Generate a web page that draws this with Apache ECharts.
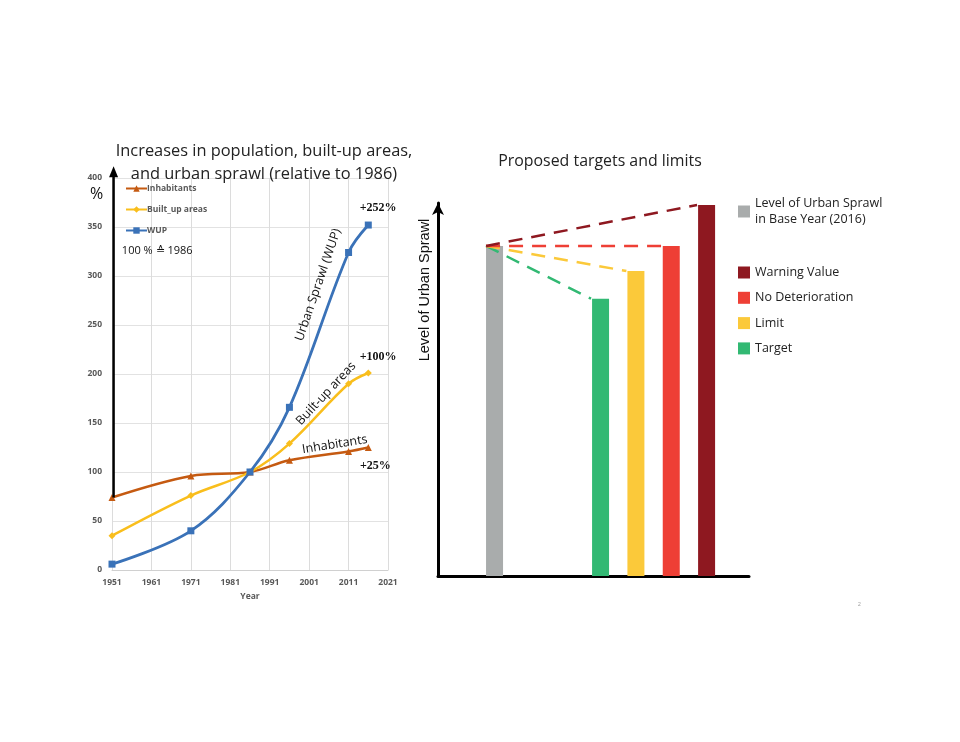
<!DOCTYPE html>
<html>
<head>
<meta charset="utf-8">
<script src="https://cdn.jsdelivr.net/npm/echarts@6/dist/echarts.min.js"></script>
<style>
  html, body { margin: 0; padding: 0; background: #fff; }
  #main { width: 960px; height: 742px; }
</style>
</head>
<body>
<div id="main"></div>
<script>
// left chart: growth relative to 1986 (=100 %)
var baseYear = 1951;
var years = [1951, 1971, 1986, 1996, 2011, 2016];
var inhabitants = [74, 96, 100, 112, 121, 125];
var builtUp = [35, 76, 100, 129, 190, 201];
var wup = [6, 40, 100, 166, 324, 352];
var yearTicks = [1951, 1961, 1971, 1981, 1991, 2001, 2011, 2021];

// right chart: proposed targets and limits
var levelNames = ['Level of Urban Sprawl\nin Base Year (2016)', 'Target', 'Limit', 'No Deterioration', 'Warning Value'];
var levelSlots = [0, 3, 4, 5, 6];
var levelValues = [100, 84, 92.4, 100, 112.4];
var levelColors = ['#A9ACAC', '#32B973', '#FBC93A', '#EE3F35', '#8E1820'];
var legendOrder = ['Warning Value', 'No Deterioration', 'Limit', 'Target'];

var myChart = echarts.init(document.getElementById('main'));

function pairs(vals) {
  return years.map(function (y, i) { return [y - baseYear, vals[i]]; });
}

var tickFont = { color: '#595959', fontSize: 8.5, fontWeight: 'bold', fontFamily: 'Open Sans' };
var noteFont = { color: '#111', fontSize: 12, fontWeight: 'bold', fontFamily: 'Liberation Serif' };
var lineFont = { color: '#111', fontSize: 12.5, fontFamily: 'Open Sans' };

function note(text, x, v, rotate, extra) {
  return {
    coord: [x, v], symbol: 'circle', symbolSize: 0,
    label: Object.assign({ show: true, position: 'inside', formatter: text, rotate: rotate || 0 }, extra)
  };
}

var series = [
  {
    name: 'Inhabitants', type: 'line', xAxisIndex: 0, yAxisIndex: 0,
    data: pairs(inhabitants), smooth: 0.35,
    symbol: 'triangle', symbolSize: 7,
    lineStyle: { width: 2.5, color: '#C55A11' }, itemStyle: { color: '#C55A11' },
    markPoint: {
      silent: true,
      data: [
        note('Inhabitants', 56.5, 128, 9, lineFont),
        note('+25%', 66.8, 106, 0, noteFont),
        note('100 % \u2259 1986', 2.5, 326, 0, { position: 'right', distance: 0, color: '#111', fontSize: 11, fontFamily: 'Open Sans' })
      ]
    }
  },
  {
    name: 'Built_up areas', type: 'line', xAxisIndex: 0, yAxisIndex: 0,
    data: pairs(builtUp), smooth: 0.35,
    symbol: 'diamond', symbolSize: 7,
    lineStyle: { width: 2.5, color: '#F9BE1C' }, itemStyle: { color: '#F9BE1C' },
    markPoint: {
      silent: true,
      data: [
        note('Built-up areas', 54.3, 180, 47, lineFont),
        note('+100%', 67.5, 217, 0, noteFont)
      ]
    }
  },
  {
    name: 'WUP', type: 'line', xAxisIndex: 0, yAxisIndex: 0,
    data: pairs(wup), smooth: 0.35,
    symbol: 'rect', symbolSize: 7,
    lineStyle: { width: 2.8, color: '#3A72B8' }, itemStyle: { color: '#3A72B8' },
    markPoint: {
      silent: true,
      data: [
        note('Urban Sprawl (WUP)', 52.3, 291, 71, lineFont),
        note('+252%', 67.5, 369, 0, noteFont)
      ]
    }
  }
];

// bars of the right chart, one series each for the legend
levelNames.forEach(function (name, i) {
  series.push({
    name: name, type: 'bar', xAxisIndex: 1, yAxisIndex: 1, stack: 'levels',
    barWidth: i === 0 ? 17 : 20,
    itemStyle: { color: levelColors[i] },
    data: [[levelSlots[i], levelValues[i]]]
  });
});

// dashed lines from the base-year level to each target bar (left top corners)
var edge = 0.27;
for (var k = 1; k < levelNames.length; k++) {
  series.push({
    type: 'line', xAxisIndex: 1, yAxisIndex: 1, z: 5, silent: true,
    symbol: 'none',
    lineStyle: { color: levelColors[k], width: 2.5, type: [14, 9] },
    data: [[levelSlots[0] - edge + 0.03, levelValues[0]], [levelSlots[k] - edge, levelValues[k]]]
  });
}

var option = {
  animation: false,
  backgroundColor: '#fff',
  title: [
    {
      text: 'Increases in population, built-up areas,\nand urban sprawl (relative to 1986)',
      left: 259, top: 135, textAlign: 'center',
      textStyle: { fontSize: 16.4, lineHeight: 23, fontWeight: 'normal', color: '#222', fontFamily: 'Open Sans' }
    },
    {
      text: 'Proposed targets and limits',
      left: 595, top: 148, textAlign: 'center',
      textStyle: { fontSize: 15.9, fontWeight: 'normal', color: '#222', fontFamily: 'Open Sans' }
    }
  ],
  legend: [
    {
      data: ['Inhabitants', 'Built_up areas', 'WUP'],
      orient: 'vertical', left: 120, top: 179, itemGap: 12,
      itemWidth: 21, itemHeight: 8, selectedMode: false,
      textStyle: { color: '#595959', fontSize: 8.5, fontWeight: 'bold', fontFamily: 'Open Sans', padding: [0, 0, 0, -5] }
    },
    {
      data: [levelNames[0]],
      orient: 'vertical', left: 733, top: 190, selectedMode: false,
      icon: 'rect', itemWidth: 12, itemHeight: 12,
      textStyle: { color: '#222', fontSize: 12.5, lineHeight: 16.5, fontFamily: 'Open Sans' }
    },
    {
      data: legendOrder,
      orient: 'vertical', left: 733, top: 261, itemGap: 12.3, selectedMode: false,
      icon: 'rect', itemWidth: 12, itemHeight: 12,
      textStyle: { color: '#222', fontSize: 12.5, fontFamily: 'Open Sans' }
    }
  ],
  grid: [
    { left: 112, top: 178, width: 276, height: 392 },
    { left: 438, top: 203, width: 311, height: 373 }
  ],
  xAxis: [
    {
      gridIndex: 0, type: 'value', min: 0, max: yearTicks[yearTicks.length - 1] - baseYear, interval: 10,
      name: 'Year', nameLocation: 'middle', nameGap: 20,
      nameTextStyle: tickFont,
      axisLine: { lineStyle: { color: '#d0d0d0', width: 1 } },
      axisTick: { show: false },
      axisLabel: Object.assign({ margin: 8, formatter: function (v) { return v + baseYear; } }, tickFont),
      splitLine: { show: true, lineStyle: { color: '#dcdcdc', width: 1 } }
    },
    {
      gridIndex: 1, type: 'value', min: -1.6, max: 7.2,
      axisLine: { onZero: false, lineStyle: { color: '#000', width: 3 } },
      axisTick: { show: false }, axisLabel: { show: false }, splitLine: { show: false }
    }
  ],
  yAxis: [
    {
      gridIndex: 0, type: 'value', min: 0, max: 400, interval: 50,
      axisLine: { show: false }, axisTick: { show: false },
      axisLabel: Object.assign({ margin: 10 }, tickFont),
      splitLine: { show: true, lineStyle: { color: '#e2e2e2', width: 1 } }
    },
    {
      gridIndex: 1, type: 'value', min: 0, max: 113,
      axisLine: { onZero: false, symbol: ['none', 'arrow'], symbolSize: [9, 12], lineStyle: { color: '#000', width: 3 } },
      axisTick: { show: false }, axisLabel: { show: false }, splitLine: { show: false }
    }
  ],
  series: series
};

myChart.setOption(option);

// black arrow on the left chart: from the 1951 inhabitants value up past the top of the axis
var arrowFrom = myChart.convertToPixel({ gridIndex: 0 }, [0.4, inhabitants[0]]);
var arrowTo = myChart.convertToPixel({ gridIndex: 0 }, [0.4, 412]);

myChart.setOption({
  graphic: [
    {
      type: 'line', z: 10, silent: true,
      shape: { x1: arrowFrom[0], y1: arrowFrom[1], x2: arrowTo[0], y2: arrowTo[1] + 8 },
      style: { stroke: '#000', lineWidth: 2.5 }
    },
    {
      type: 'polygon', z: 10, silent: true,
      shape: { points: [[arrowTo[0], arrowTo[1]], [arrowTo[0] - 4.5, arrowTo[1] + 11], [arrowTo[0] + 4.5, arrowTo[1] + 11]] },
      style: { fill: '#000' }
    },
    { type: 'text', left: 90, top: 186, style: { text: '%', fontSize: 16, fill: '#111', fontFamily: 'Open Sans' } },
    {
      type: 'text', x: 425, y: 290, rotation: Math.PI / 2,
      style: { text: 'Level of Urban Sprawl', fontSize: 14.5, fill: '#111', fontFamily: 'Liberation Sans', align: 'center', verticalAlign: 'middle' }
    },
    { type: 'text', left: 858, top: 602, style: { text: '2', fontSize: 5, fill: '#999' } }
  ]
});
</script>
</body>
</html>
